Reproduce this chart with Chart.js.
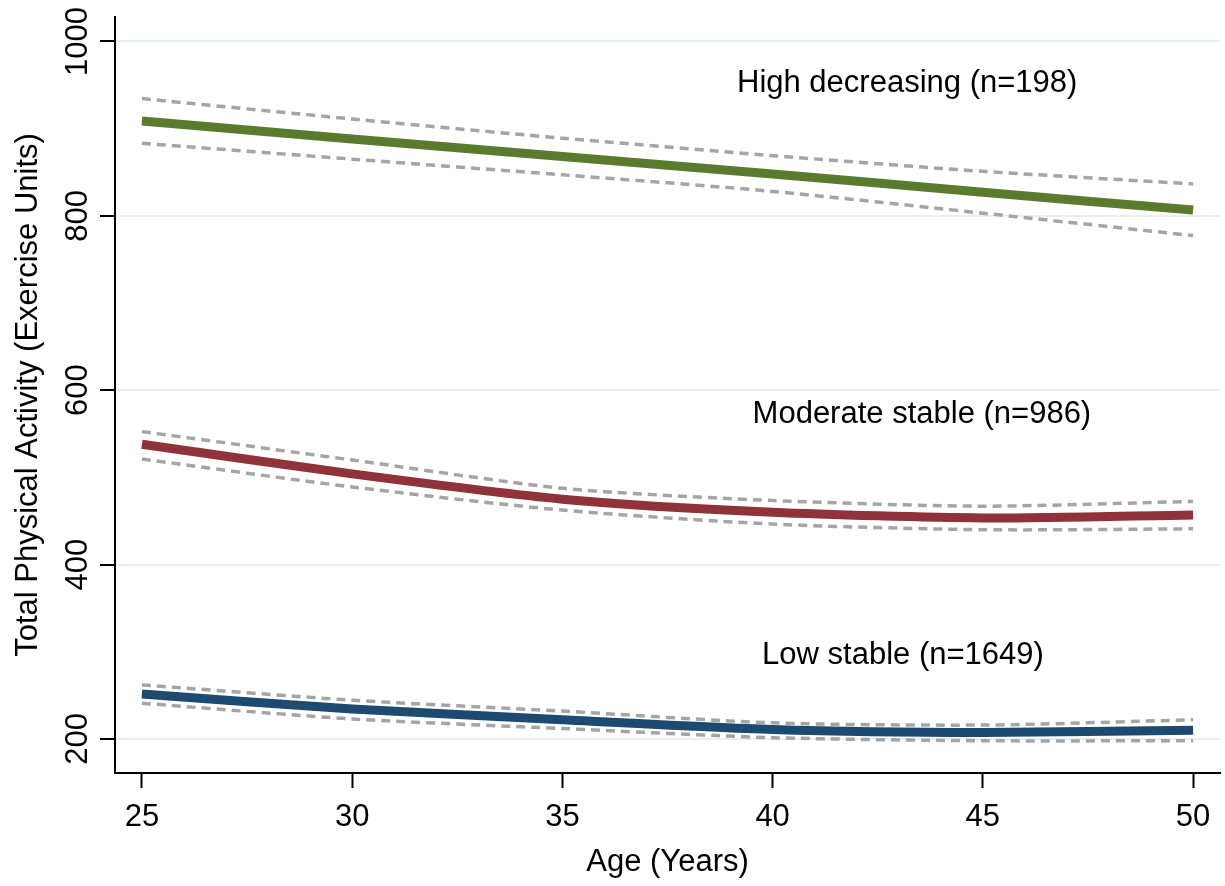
<!DOCTYPE html>
<html>
<head>
<meta charset="utf-8">
<title>Physical activity trajectories</title>
<script src="https://cdn.jsdelivr.net/npm/chart.js@4.4.1/dist/chart.umd.min.js"></script>
<style>
    html, body { margin: 0; padding: 0; background: #fff; }
    #wrap { width: 1225px; height: 886px; position: relative; }
</style>
</head>
<body>
<div id="wrap"><canvas id="activityChart"></canvas></div>
<script>
// Ages on the x axis
const ages = [25, 30, 35, 40, 45, 50];

// High decreasing (n=198)
const highMean  = [908.8, 888, 868, 848, 827, 806.7];
const highUpper = [934.4, 911, 889, 869, 851, 836.6];
const highLower = [883.2, 865, 847, 828, 803, 777.3];

// Moderate stable (n=986)
const modMean  = [538, 504, 475, 460, 453.5, 457];
const modUpper = [552.5, 520, 487.5, 473.5, 467, 472.5];
const modLower = [521, 489, 462.5, 446.5, 440, 441];

// Low stable (n=1649)
const lowMean  = [251.5, 234.5, 222, 211, 207.5, 210];
const lowUpper = [262, 244.5, 232, 218.5, 216, 222];
const lowLower = [241, 223, 212, 201.5, 198, 198];

const xTicks = [25, 30, 35, 40, 45, 50];
const yTicks = [200, 400, 600, 800, 1000];

const groupLabels = ['High decreasing (n=198)', 'Moderate stable (n=986)', 'Low stable (n=1649)'];
const labelAge = [43.2, 43.55, 43.1];
const labelValue = [952, 572, 296];

const FONT = '"Liberation Sans", Arial, sans-serif';

function pts(values) {
    return ages.map((a, i) => ({ x: a, y: values[i] }));
}

function mainLine(values, color) {
    return {
        data: pts(values),
        borderColor: color,
        borderWidth: 9,
        pointRadius: 0,
        tension: 0.25,
        fill: false,
        order: 2
    };
}

function ciLine(values) {
    return {
        data: pts(values),
        borderColor: '#a5a5a5',
        borderWidth: 3.5,
        borderDash: [9, 6],
        pointRadius: 0,
        tension: 0.25,
        fill: false,
        order: 1
    };
}

// vertical y tick labels, reading bottom to top like the original
const yTickLabels = {
    id: 'yTickLabels',
    afterDraw(chart) {
        const ctx = chart.ctx;
        const y = chart.scales.y;
        ctx.save();
        ctx.font = '31px ' + FONT;
        ctx.fillStyle = '#000';
        ctx.textAlign = 'center';
        ctx.textBaseline = 'alphabetic';
        yTicks.forEach(v => {
            const py = y.getPixelForValue(v);
            ctx.save();
            ctx.translate(87, py);
            ctx.rotate(-Math.PI / 2);
            ctx.fillText(String(v), 0, 0);
            ctx.restore();
        });
        ctx.restore();
    }
};

// group labels placed in data units
const groupText = {
    id: 'groupText',
    afterDatasetsDraw(chart) {
        const ctx = chart.ctx;
        const xs = chart.scales.x, ys = chart.scales.y;
        ctx.save();
        ctx.font = '31px ' + FONT;
        ctx.fillStyle = '#000';
        ctx.textAlign = 'center';
        ctx.textBaseline = 'middle';
        groupLabels.forEach((t, i) => {
            ctx.fillText(t, xs.getPixelForValue(labelAge[i]), ys.getPixelForValue(labelValue[i]));
        });
        ctx.restore();
    }
};

new Chart(document.getElementById('activityChart'), {
    type: 'line',
    data: {
        datasets: [
            mainLine(highMean, '#5a7a2e'), ciLine(highUpper), ciLine(highLower),
            mainLine(modMean, '#8f323a'), ciLine(modUpper), ciLine(modLower),
            mainLine(lowMean, '#1d4a70'), ciLine(lowUpper), ciLine(lowLower)
        ]
    },
    options: {
        responsive: true,
        maintainAspectRatio: false,
        animation: false,
        layout: { padding: { top: 17, right: 5, left: 0, bottom: 0 } },
        plugins: {
            legend: { display: false },
            tooltip: { enabled: false }
        },
        scales: {
            x: {
                type: 'linear',
                min: 24.36,
                max: 50.64,
                afterBuildTicks: s => { s.ticks = xTicks.map(v => ({ value: v })); },
                afterFit: s => { s.height = 113; },
                border: { display: true, color: '#000', width: 2 },
                grid: {
                    drawOnChartArea: false,
                    drawTicks: true,
                    tickLength: 15,
                    tickColor: '#000',
                    tickWidth: 2
                },
                ticks: {
                    color: '#000',
                    font: { family: FONT, size: 31 },
                    padding: 11,
                    maxRotation: 0,
                    autoSkip: false
                },
                title: {
                    display: true,
                    text: 'Age (Years)',
                    color: '#000',
                    font: { family: FONT, size: 31 },
                    padding: { top: 0, bottom: 5 }
                }
            },
            y: {
                min: 161,
                max: 1028,
                afterBuildTicks: s => { s.ticks = yTicks.map(v => ({ value: v })); },
                afterFit: s => { s.width = 115; },
                border: { display: true, color: '#000', width: 2 },
                grid: {
                    color: '#e6eff1',
                    lineWidth: 2,
                    drawTicks: true,
                    tickLength: 15,
                    tickColor: '#000',
                    tickWidth: 2
                },
                ticks: { display: false },
                title: {
                    display: true,
                    text: 'Total Physical Activity (Exercise Units)',
                    color: '#000',
                    font: { family: FONT, size: 31 },
                    padding: { top: 10, bottom: 0 }
                }
            }
        }
    },
    plugins: [yTickLabels, groupText]
});
</script>
</body>
</html>
